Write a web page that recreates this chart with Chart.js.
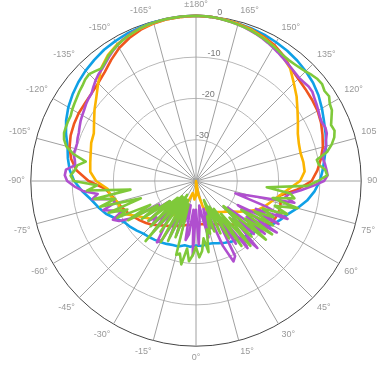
<!DOCTYPE html>
<html>
<head>
<meta charset="utf-8">
<script src="https://cdn.jsdelivr.net/npm/chart.js@4.4.1/dist/chart.umd.min.js"></script>
<style>
  html, body { margin: 0; padding: 0; background: #fff; overflow: hidden; }
  #wrap { width: 390px; height: 379px; }
</style>
</head>
<body>
<div id="wrap"><canvas id="patternChart"></canvas></div>
<script>
// angle tick labels, clockwise from the top
const angleTicks = [
  "±180°", "165°", "150°", "135°", "120°", "105°", "90°", "75°", "60°", "45°", "30°", "15°",
  "0°", "-15°", "-30°", "-45°", "-60°", "-75°", "-90°", "-105°", "-120°", "-135°", "-150°", "-165°",
];
const ringTicks = [0, -10, -20, -30];

// 2.5 degree steps, 180 -> -177.5
const angles = [];
for (let k = 0; k < 144; k++) angles.push(180 - 2.5 * k);

// smooth traces, 5 degree steps (180 -> -175), dB
const blue = [
  0, -0.1, -0.3, -0.5, -0.7, -0.9, -1.2, -1.5, -1.9, -2.4, -3.0, -3.8,
  -4.8, -5.8, -6.6, -7.4, -8.4, -9.2, -10.0, -11.2, -12.7, -14.6, -16.4, -17.6,
  -18.8, -20.0, -21.0, -21.7, -22.2, -22.6, -23.0, -23.5, -24.0, -24.4, -24.5, -24.2,
  -24.4, -24.0, -24.2, -23.6, -23.5, -23.2, -22.9, -22.6, -22.3, -22.0, -21.3, -20.6,
  -20.0, -18.5, -16.8, -15.5, -14.2, -12.3, -10.5, -9.3, -8.5, -7.8, -6.5, -5.3,
  -4.3, -3.5, -2.8, -2.2, -1.7, -1.2, -0.9, -0.6, -0.4, -0.2, -0.1, 0,
];
const red = [
  0, -0.1, -0.3, -0.6, -0.9, -1.4, -2.0, -3.0, -4.3, -5.0, -5.4, -5.7,
  -6.0, -6.6, -7.4, -8.2, -9.3, -10.5, -12.0, -15.5, -19.5, -18.8, -18.6, -18.8,
  -19.3, -21.6, -23.6, -25.0, -26.2, -27.2, -27.9, -28.5, -28.9, -29.2, -29.4, -29.5,
  -29.5, -29.4, -29.2, -28.9, -28.5, -28.0, -27.4, -26.8, -26.0, -25.0, -24.2, -23.4,
  -22.6, -21.8, -21.0, -20.2, -19.3, -18.0, -14.0, -11.0, -9.3, -8.3, -7.7, -7.4,
  -7.2, -7.2, -7.0, -6.5, -5.6, -4.2, -2.8, -1.8, -1.0, -0.5, -0.2, -0.1,
];
const orange = [
  0, -0.1, -0.3, -0.6, -1.0, -1.6, -2.3, -3.3, -4.5, -6.5, -8.2, -10.0,
  -11.5, -12.8, -13.5, -13.8, -13.6, -13.6, -14.8, -17.5, -19.5, -21.0, -22.2, -23.5,
  -25.5, -27.0, -28.5, -29.5, -30.2, -30.8, -31.3, -31.8, -32.5, -33.5, -36.5, -40,
  -36.5, -35.5, -36.5, -37.0, -35.0, -33.5, -31.0, -29.8, -28.6, -27.0, -25.8, -24.6,
  -23.2, -21.0, -20.5, -20.3, -19.0, -18.5, -15.8, -14.3, -14.0, -13.6, -13.0, -12.7,
  -11.5, -10.0, -8.5, -6.5, -4.3, -2.8, -1.8, -1.2, -0.7, -0.4, -0.2, -0.1,
];

// jagged traces, 2.5 degree steps (180 -> -177.5), dB
const purple = [
  0, 0, -0.1, -0.2, -0.4, -0.6, -0.8, -1.0, -1.3, -1.6, -1.9, -2.3,
  -2.7, -3.1, -3.5, -3.9, -4.2, -4.5, -4.7, -4.6, -4.4, -4.5, -5.0, -5.4,
  -5.8, -6.2, -6.4, -6.1, -6.3, -7.0, -7.4, -8.3, -8.8, -8.5, -8.3, -8.1,
  -9.0, -11.8, -14.5, -17.0, -18.0, -15.6, -26, -30, -22, -16, -24, -17.5,
  -28.3, -16.8, -25, -19, -30, -21, -27.2, -18, -24, -19.5, -29, -22,
  -31, -19.5, -18.5, -23, -32, -28, -33, -26, -31, -34, -30, -24.6,
  -33, -22, -33, -27, -25.5, -34, -30, -34, -26, -33, -25, -31,
  -23.5, -22.4, -27, -31, -24, -30.2, -25, -27, -25, -32, -27, -29.4,
  -22, -19, -17.8, -20.5, -19, -16.5, -19.6, -19.6, -14.5, -16, -12.5, -10.5,
  -8.8, -8.2, -8.4, -10.5, -10.2, -9.6, -9.8, -9.8, -9.5, -9.3, -8.9, -8.5,
  -8.2, -7.9, -7.5, -7.2, -7.0, -6.3, -5.6, -5.0, -4.6, -4.0, -3.3, -2.6,
  -2.0, -1.5, -1.1, -0.8, -0.6, -0.4, -0.3, -0.2, -0.1, -0.1, 0, 0,
];
const green = [
  0, 0, -0.1, -0.2, -0.4, -0.6, -0.8, -1.0, -1.2, -1.5, -1.8, -2.1,
  -2.4, -2.7, -3.0, -3.1, -3.0, -2.8, -2.5, -2.0, -1.6, -1.5, -2.0, -1.8,
  -2.6, -2.9, -3.8, -4.6, -4.3, -4.9, -6.0, -7.5, -10.3, -10.0, -8.6, -8.2,
  -10.5, -13, -22.8, -17, -15.8, -21, -14.5, -20, -16.5, -22.5, -19.3, -24,
  -18.5, -27, -17.5, -25, -17.9, -31, -21, -28, -19.5, -30, -20.8, -32,
  -24, -33, -26, -35, -27, -31, -26.8, -28, -22.5, -26, -23, -21.5,
  -24, -22, -20.5, -23.5, -19.5, -22, -21.5, -34, -25.5, -35, -24, -35,
  -23, -36, -25, -35, -21, -35, -24.5, -34, -25, -32, -24, -29,
  -21, -27.5, -19, -22, -17.5, -26, -16, -20, -15, -24, -13.5, -16,
  -10.4, -9.6, -10.5, -11.0, -12.9, -9.5, -7.5, -6.5, -6.0, -5.9, -5.8, -5.8,
  -5.4, -5.1, -4.8, -4.4, -4.1, -3.6, -3.4, -3.9, -4.4, -3.8, -3.0, -2.5,
  -2.0, -1.6, -1.2, -0.9, -0.6, -0.4, -0.3, -0.2, -0.1, -0.1, 0, 0,
];

// put the 5 degree traces on the 2.5 degree label grid
const onGrid = (arr) => arr.flatMap((v) => [v, null]);

const trace = (data, color, order) => ({
  data,
  borderColor: color,
  backgroundColor: "transparent",
  borderWidth: 2.6,
  pointRadius: 0,
  fill: false,
  spanGaps: true,
  tension: 0,
  order,
});

const ringLabels = {
  id: "ringLabels",
  afterDraw(chart) {
    const scale = chart.scales.r;
    const ctx = chart.ctx;
    const a = (8 * Math.PI) / 180;
    ctx.save();
    ctx.font = "9px 'Liberation Sans', Arial, sans-serif";
    ctx.fillStyle = "#777";
    ctx.textAlign = "center";
    ctx.textBaseline = "middle";
    ringTicks.forEach((v) => {
      const d = scale.getDistanceFromCenterForValue(v) + 5;
      ctx.fillText(String(v), scale.xCenter + d * Math.sin(a), scale.yCenter - d * Math.cos(a));
    });
    ctx.restore();
  },
};

new Chart(document.getElementById("patternChart"), {
  type: "radar",
  data: {
    labels: angles,
    datasets: [
      trace(onGrid(blue), "#0fa0e6", 4),
      trace(onGrid(red), "#f0561e", 3),
      trace(onGrid(orange), "#fbb400", 2),
      trace(purple, "#b04fcf", 1),
      trace(green, "#7fc93a", 0),
    ],
  },
  options: {
    responsive: true,
    maintainAspectRatio: false,
    animation: false,
    layout: { padding: { bottom: 15 } },
    elements: { line: { borderJoinStyle: "round", borderCapStyle: "round" } },
    plugins: { legend: { display: false }, tooltip: { enabled: false } },
    scales: {
      r: {
        min: -40,
        max: 0,
        ticks: { stepSize: 10, display: false },
        grid: {
          circular: true,
          color: (ctx) => (ctx.tick && ctx.tick.value === 0 ? "#444" : "#b8b8b8"),
          lineWidth: 1,
        },
        angleLines: {
          color: "#a0a0a0",
          lineWidth: (ctx) => (ctx.index % 6 === 0 ? 1 : 0),
        },
        pointLabels: {
          padding: 6,
          color: "#999",
          font: { size: 9, family: "'Liberation Sans', Arial, sans-serif" },
          callback: (label, i) => (i % 6 === 0 ? angleTicks[i / 6] : ""),
        },
      },
    },
  },
  plugins: [ringLabels],
});
</script>
</body>
</html>
